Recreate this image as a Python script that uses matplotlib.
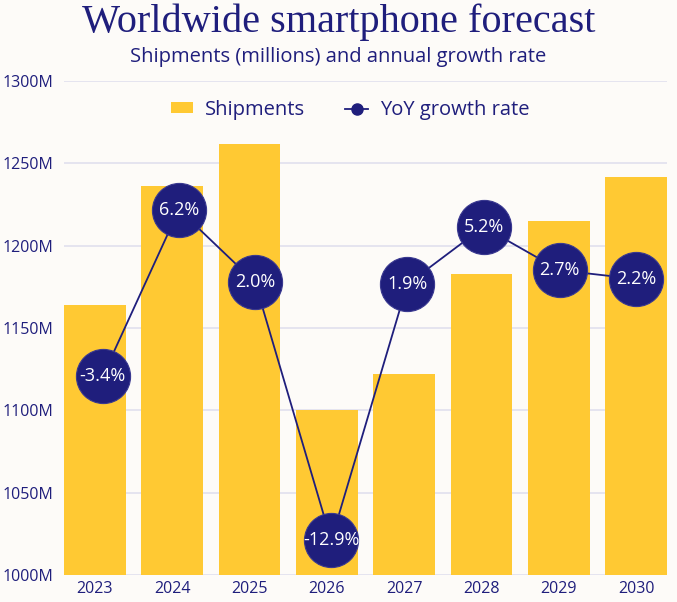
import matplotlib
matplotlib.use("Agg")
import matplotlib.pyplot as plt
from matplotlib.patches import Patch
from matplotlib.lines import Line2D

# data
years = ["2023", "2024", "2025", "2026", "2027", "2028", "2029", "2030"]
shipments = [1164, 1236, 1262, 1100, 1122, 1183, 1215, 1242]
growth = [-3.4, 6.2, 2.0, -12.9, 1.9, 5.2, 2.7, 2.2]
yticks = [1000, 1050, 1100, 1150, 1200, 1250, 1300]

navy = "#1f1e7c"
yellow = "#ffc933"
bg = "#fdfbf8"
grid = "#e1e0ee"

plt.rcParams["font.family"] = ["Open Sans", "DejaVu Sans"]

fig = plt.figure(figsize=(6.77, 6.02), dpi=100, facecolor=bg)
pos = [64 / 677, 27 / 602, 603 / 677, 494 / 602]
ax = fig.add_axes(pos)
ax.set_facecolor(bg)

x = range(len(years))
ax.bar(x, shipments, width=0.8, color=yellow, zorder=2)
ax.set_xlim(-0.4, len(years) - 0.6)
ax.set_ylim(1000, 1300)
ax.set_yticks(yticks)
ax.set_yticklabels([f"{t}M" for t in yticks])
ax.set_xticks(list(x))
ax.set_xticklabels(years)
ax.grid(axis="y", color=grid, linewidth=1.2, zorder=0)
ax.set_axisbelow(True)
ax.tick_params(length=0, colors=navy, labelsize=11.5)
ax.tick_params(axis="x", pad=4)
ax.tick_params(axis="y", pad=7.5)
for s in ax.spines.values():
    s.set_visible(False)

# growth rate on its own overlaid axes
ax2 = fig.add_axes(pos)
ax2.patch.set_alpha(0)
ax2.plot(x, growth, color=navy, linewidth=1.3, marker="o", markersize=39,
         markerfacecolor=navy, markeredgecolor="#3a3990", markeredgewidth=0.8, zorder=3)
for xi, g in zip(x, growth):
    ax2.text(xi, g, f"{g:.1f}%", ha="center", va="center", color="white",
             fontsize=13, zorder=4)
ax2.set_xlim(-0.51, 7.41)
ax2.set_ylim(-14.9, 13.63)
ax2.axis("off")

fig.text(0.5, 1 - 22 / 602, "Worldwide smartphone forecast", ha="center", va="center",
         fontsize=29, color=navy, family=["Liberation Serif", "DejaVu Serif"])
fig.text(0.5, 1 - 57 / 602, "Shipments (millions) and annual growth rate", ha="center",
         va="center", fontsize=14.5, color=navy)

handles = [Patch(facecolor=yellow, edgecolor="none"),
           Line2D([0], [0], color=navy, marker="o", markersize=8, linewidth=1.3)]
fig.legend(handles, ["Shipments", "YoY growth rate"], loc="center",
           bbox_to_anchor=(350 / 677, 1 - 110 / 602), ncol=2, frameon=False,
           fontsize=14.5, labelcolor=navy, handlelength=1.1, handleheight=0.45,
           columnspacing=2.0, handletextpad=0.6)

fig.savefig("out.png", dpi=100, facecolor=bg)
